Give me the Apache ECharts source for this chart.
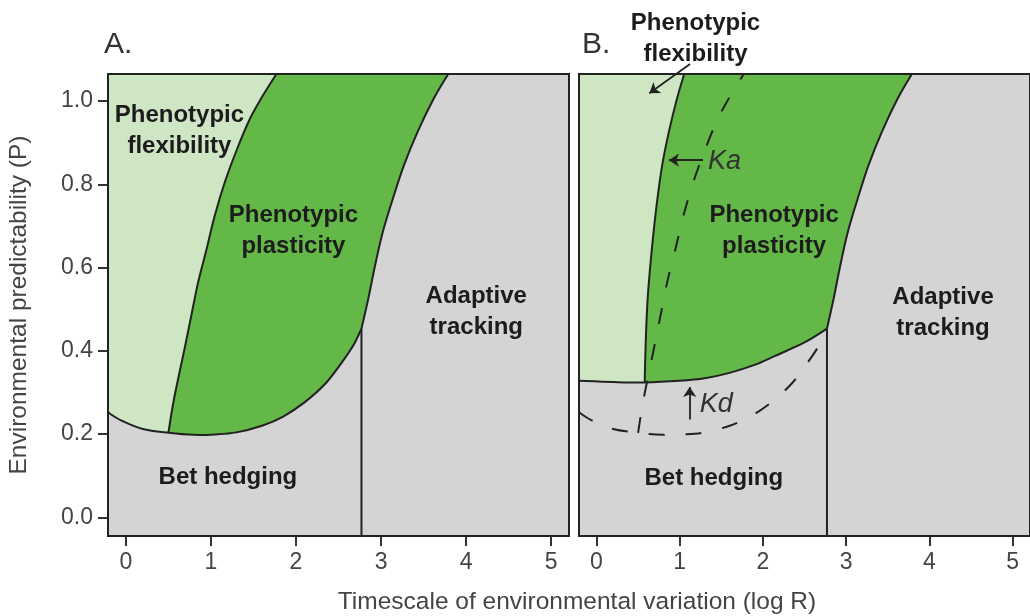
<!DOCTYPE html>
<html>
<head>
<meta charset="utf-8">
<script src="https://cdn.jsdelivr.net/npm/echarts@6/dist/echarts.min.js"></script>
<style>
  html, body { margin: 0; padding: 0; background: #fff; }
  #chart { width: 1030px; height: 616px; }
</style>
</head>
<body>
<div id="chart"></div>
<script>
// Axis ticks
const xTicks = [0, 1, 2, 3, 4, 5];
const yTicks = [0, 0.2, 0.4, 0.6, 0.8, 1.0];

// Axis extents (log R, P)
const X_MIN = -0.21, X_MAX = 5.21, Y_MIN = -0.045, Y_MAX = 1.065;

// Boundary curves as [log R, P] pairs.
// A: flexibility / plasticity boundary, bottom to top
const flexEdgeA = [
  [0.50, 0.203], [0.565, 0.283], [0.69, 0.405], [0.77, 0.485], [0.85, 0.565],
  [0.95, 0.645], [1.047, 0.726], [1.165, 0.806], [1.31, 0.886], [1.46, 0.958],
  [1.59, 1.006], [1.77, 1.065]
];
// A: lower edge of the plastic strategies (bet hedging below), left to right
const hedgeEdgeA = [
  [-0.21, 0.252], [-0.05, 0.232], [0.2, 0.212], [0.5, 0.203], [0.8, 0.198],
  [1.05, 0.199], [1.3, 0.204], [1.6, 0.22], [1.85, 0.242], [2.1, 0.276],
  [2.35, 0.322], [2.55, 0.375], [2.68, 0.415], [2.77, 0.453]
];
// plasticity / adaptive tracking boundary, junction to top (both panels)
const trackEdge = [
  [2.77, 0.453], [2.85, 0.525], [2.93, 0.605], [3.02, 0.685], [3.14, 0.766],
  [3.27, 0.846], [3.43, 0.926], [3.62, 1.006], [3.79, 1.065]
];
// vertical split between bet hedging and adaptive tracking
const trackingSplit = 2.77;
// B: shifted boundaries
const flexEdgeB = [
  [0.58, 0.324], [0.584, 0.365], [0.596, 0.445], [0.615, 0.525], [0.647, 0.605],
  [0.686, 0.685], [0.733, 0.766], [0.79, 0.846], [0.87, 0.926], [0.968, 1.006],
  [1.054, 1.065]
];
const hedgeEdgeB = [
  [-0.21, 0.328], [0.2, 0.325], [0.58, 0.324], [1.0, 0.328], [1.3, 0.334],
  [1.6, 0.347], [1.9, 0.366], [2.14, 0.387], [2.5, 0.42], [2.77, 0.453]
];

const FONT = "'Liberation Sans', Arial, Helvetica, sans-serif";
const INK = '#222';
const GRAY = '#d4d4d4';
const LIGHT_GREEN = '#cfe6c4';
const GREEN = '#63b847';

// Smooth curve through pixel points (Catmull-Rom as cubic Beziers)
function splineSegs(p) {
  let d = '';
  for (let i = 0; i < p.length - 1; i++) {
    const p0 = p[i - 1] || p[i], p1 = p[i], p2 = p[i + 1], p3 = p[i + 2] || p[i + 1];
    const c1x = p1[0] + (p2[0] - p0[0]) / 6, c1y = p1[1] + (p2[1] - p0[1]) / 6;
    const c2x = p2[0] - (p3[0] - p1[0]) / 6, c2y = p2[1] - (p3[1] - p1[1]) / 6;
    d += ' C ' + c1x + ' ' + c1y + ' ' + c2x + ' ' + c2y + ' ' + p2[0] + ' ' + p2[1];
  }
  return d;
}
const pt = q => ' ' + q[0] + ' ' + q[1];

// Path builders; `c` maps [log R, P] to pixels through the axes
const curvePath = pts => c => {
  const px = pts.map(c);
  return 'M' + pt(px[0]) + splineSegs(px);
};
// area left of / above a rising edge, closed down to the bottom axis
const leftOfEdge = edge => c => {
  const px = edge.slice().reverse().map(c);
  const bottom = edge[0];
  return 'M' + pt(c([X_MIN, Y_MAX])) + ' L' + pt(px[0]) + splineSegs(px) +
    ' L' + pt(c([bottom[0], Y_MIN])) + ' L' + pt(c([X_MIN, Y_MIN])) + ' Z';
};
// area below the lower edge
const belowEdge = edge => c => {
  const px = edge.map(c);
  const last = edge[edge.length - 1];
  return 'M' + pt(px[0]) + splineSegs(px) +
    ' L' + pt(c([last[0], Y_MIN])) + ' L' + pt(c([X_MIN, Y_MIN])) + ' Z';
};

function pathSeries(panel, build, style, z) {
  return {
    type: 'custom', xAxisIndex: panel, yAxisIndex: panel, clip: true, silent: true, z: z,
    data: [[0, 0]],
    renderItem: (params, api) => ({
      type: 'path',
      shape: { pathData: build(q => api.coord(q)) },
      style: style
    })
  };
}
const fill = color => ({ fill: color, stroke: null });
const solid = { fill: null, stroke: INK, lineWidth: 2 };
const dashed = { fill: null, stroke: INK, lineWidth: 2, lineDash: [16, 21] };

function frameSeries(panel) {
  return {
    type: 'custom', xAxisIndex: panel, yAxisIndex: panel, silent: true, z: 8,
    data: [[0, 0]],
    renderItem: (params) => {
      const c = params.coordSys;
      return {
        type: 'rect',
        shape: { x: c.x, y: c.y, width: c.width, height: c.height },
        style: { fill: null, stroke: INK, lineWidth: 2 }
      };
    }
  };
}

function labelSeries(panel, items, style, clip) {
  return {
    type: 'scatter', xAxisIndex: panel, yAxisIndex: panel, symbolSize: 0,
    silent: true, z: 6, clip: clip,
    itemStyle: { opacity: 1 },
    data: items,
    label: Object.assign({
      show: true, position: 'inside', formatter: p => p.data[2],
      fontFamily: FONT, color: '#1c1c1c', textBorderWidth: 0, opacity: 1
    }, style)
  };
}

const boldLabel = { fontSize: 24, fontWeight: 'bold', lineHeight: 31, align: 'center', verticalAlign: 'middle' };
const italicLabel = { fontSize: 27, fontStyle: 'italic', fontWeight: 'normal', color: '#333', align: 'left', verticalAlign: 'middle' };

const splitLine = [[trackingSplit, Y_MIN], trackEdge[0]];

function panelSeries(panel, flex, hedge) {
  return [
    pathSeries(panel, leftOfEdge(trackEdge), fill(GREEN), 1),
    pathSeries(panel, leftOfEdge(flex), fill(LIGHT_GREEN), 2),
    pathSeries(panel, belowEdge(hedge), fill(GRAY), 3),
    pathSeries(panel, curvePath(flex), solid, 4),
    pathSeries(panel, curvePath(hedge), solid, 4),
    pathSeries(panel, curvePath(trackEdge), solid, 4),
    pathSeries(panel, curvePath(splitLine), solid, 4)
  ];
}

const axisTickStyle = { length: 10, lineStyle: { color: '#333', width: 2 } };

const option = {
  animation: false,
  backgroundColor: '#fff',
  grid: [
    { left: 108, top: 74, width: 461, height: 462, show: true, backgroundColor: GRAY, borderWidth: 0 },
    { left: 579, top: 74, width: 461, height: 462, show: true, backgroundColor: GRAY, borderWidth: 0 }
  ],
  xAxis: [0, 1].map(i => ({
    type: 'value', gridIndex: i, min: X_MIN, max: X_MAX,
    axisLine: { show: false, onZero: false }, splitLine: { show: false },
    axisTick: Object.assign({ show: true, customValues: xTicks }, axisTickStyle),
    axisLabel: { customValues: xTicks, margin: 15, fontSize: 23, color: '#444', fontFamily: FONT }
  })),
  yAxis: [
    {
      type: 'value', gridIndex: 0, min: Y_MIN, max: Y_MAX,
      axisLine: { show: false, onZero: false }, splitLine: { show: false },
      axisTick: Object.assign({ show: true, customValues: yTicks }, axisTickStyle),
      axisLabel: { customValues: yTicks, margin: 15, fontSize: 23, color: '#444', fontFamily: FONT,
        formatter: v => v.toFixed(1) }
    },
    {
      type: 'value', gridIndex: 1, min: Y_MIN, max: Y_MAX,
      axisLine: { show: false, onZero: false }, splitLine: { show: false },
      axisTick: { show: false }, axisLabel: { show: false }
    }
  ],
  graphic: [
    { type: 'text', x: 104, y: 45, style: { text: 'A.', fontSize: 30, fontFamily: FONT, fill: '#333', verticalAlign: 'middle' } },
    { type: 'text', x: 582, y: 45, style: { text: 'B.', fontSize: 30, fontFamily: FONT, fill: '#333', verticalAlign: 'middle' } },
    { type: 'text', x: 577, y: 602, style: { text: 'Timescale of environmental variation (log R)', fontSize: 24.5,
      fontFamily: FONT, fill: '#444', align: 'center', verticalAlign: 'middle' } },
    { type: 'text', x: 19, y: 305, rotation: Math.PI / 2, style: { text: 'Environmental predictability (P)', fontSize: 24.5,
      fontFamily: FONT, fill: '#444', align: 'center', verticalAlign: 'middle' } }
  ],
  series: [].concat(
    // Panel A
    panelSeries(0, flexEdgeA, hedgeEdgeA),
    [
      labelSeries(0, [
        [0.63, 0.928, 'Phenotypic\nflexibility'],
        [1.97, 0.688, 'Phenotypic\nplasticity'],
        [4.12, 0.493, 'Adaptive\ntracking'],
        [1.20, 0.097, 'Bet hedging']
      ], boldLabel, true),
      frameSeries(0)
    ],
    // Panel B
    panelSeries(1, flexEdgeB, hedgeEdgeB),
    [
      // previous boundaries, dashed
      pathSeries(1, curvePath(flexEdgeA), dashed, 5),
      pathSeries(1, curvePath(hedgeEdgeA), dashed, 5),
      labelSeries(1, [
        [2.135, 0.688, 'Phenotypic\nplasticity'],
        [4.165, 0.492, 'Adaptive\ntracking'],
        [1.41, 0.094, 'Bet hedging']
      ], boldLabel, true),
      labelSeries(1, [[1.19, 1.149, 'Phenotypic\nflexibility']], boldLabel, false),
      labelSeries(1, [
        [1.34, 0.854, 'Ka'],
        [1.24, 0.271, 'Kd']
      ], italicLabel, true),
      {
        type: 'lines', coordinateSystem: 'cartesian2d', xAxisIndex: 1, yAxisIndex: 1,
        clip: false, silent: true, z: 7,
        symbol: ['none', 'arrow'], symbolSize: 10,
        lineStyle: { color: INK, width: 1.8, opacity: 1, curveness: 0 },
        data: [
          { coords: [[1.125, 1.089], [0.635, 1.0185]] },
          { coords: [[1.28, 0.858], [0.87, 0.858]] },
          { coords: [[1.12, 0.235], [1.12, 0.313]] }
        ]
      },
      frameSeries(1)
    ]
  )
};

const chart = echarts.init(document.getElementById('chart'), null, { renderer: 'canvas' });
chart.setOption(option);
</script>
</body>
</html>
